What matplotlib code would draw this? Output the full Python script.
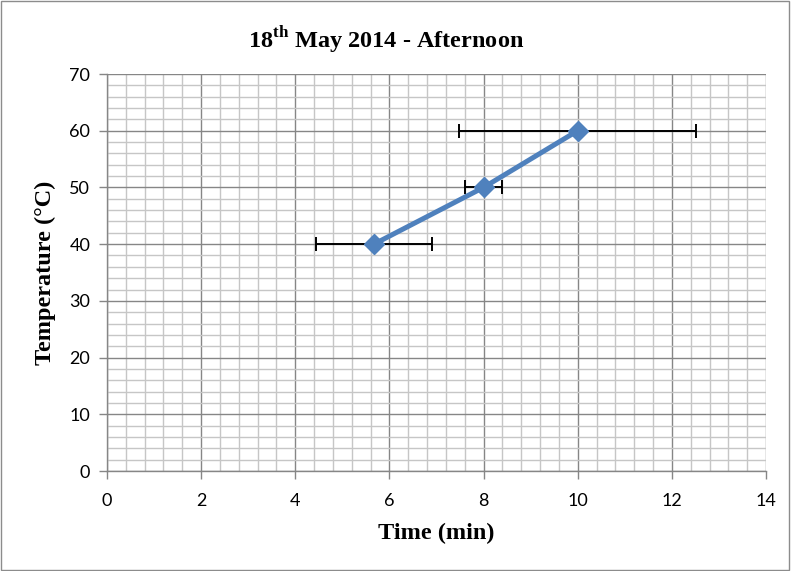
import matplotlib
matplotlib.use("Agg")
import matplotlib.pyplot as plt
from matplotlib.ticker import MultipleLocator
from matplotlib.patches import Rectangle

# Measured data
time_min = [5.67, 8.0, 10.0]
temperature_c = [40, 50, 60]
time_err = [1.23, 0.40, 2.52]

x_ticks = [0, 2, 4, 6, 8, 10, 12, 14]
y_ticks = [0, 10, 20, 30, 40, 50, 60, 70]

plt.rcParams['mathtext.fontset'] = 'custom'
plt.rcParams['mathtext.rm'] = 'Liberation Serif:bold'
plt.rcParams['mathtext.bf'] = 'Liberation Serif:bold'

W, H = 791, 571
fig = plt.figure(figsize=(W / 100, H / 100), dpi=100)
fig.patch.set_facecolor('white')
fig.patches.append(Rectangle((0.001, 0.001), 0.997, 0.997, transform=fig.transFigure,
                             fill=False, edgecolor='#8c8c8c', linewidth=1.0))

left, right, top, bottom = 107, 766, 74, 471
ax = fig.add_axes([left / W, 1 - bottom / H, (right - left) / W, (bottom - top) / H])

ax.set_xlim(0, 14)
ax.set_ylim(0, 70)
ax.set_xticks(x_ticks)
ax.set_yticks(y_ticks)
ax.xaxis.set_minor_locator(MultipleLocator(0.4))
ax.yaxis.set_minor_locator(MultipleLocator(2))

ax.grid(which='major', color='#868686', linewidth=1.0)
ax.grid(which='minor', color='#c6c6c6', linewidth=1.0)
ax.set_axisbelow(True)

for s in ['top', 'right']:
    ax.spines[s].set_visible(False)
for s in ['left', 'bottom']:
    ax.spines[s].set_color('#868686')
    ax.spines[s].set_linewidth(1.0)

ax.tick_params(which='major', length=6, width=1, color='#868686',
               labelsize=13, pad=6)
ax.tick_params(which='minor', length=0)
for lab in ax.get_xticklabels() + ax.get_yticklabels():
    lab.set_fontfamily('Lato')
ax.tick_params(axis='x', pad=10)

ax.errorbar(time_min, temperature_c, xerr=time_err, fmt='none', ecolor='black',
            elinewidth=1.4, capsize=5, capthick=1.4, zorder=3)
ax.plot(time_min, temperature_c, color='#4F81BD', linewidth=3.6, marker='D',
        markersize=10, markerfacecolor='#4F81BD', markeredgecolor='#4F81BD', zorder=4)

ax.set_xlabel('Time (min)', fontfamily='Liberation Serif', fontweight='bold',
              fontsize=17.5, labelpad=10)
ax.set_ylabel('Temperature (°C)', fontfamily='Liberation Serif', fontweight='bold',
              fontsize=17.5, labelpad=10)

fig.text(386 / W, 1 - 40 / H, r'18$^{\mathrm{th}}$ May 2014 - Afternoon',
         ha='center', va='center', fontfamily='Liberation Serif',
         fontweight='bold', fontsize=17.5)

fig.savefig('out.png', dpi=100)
